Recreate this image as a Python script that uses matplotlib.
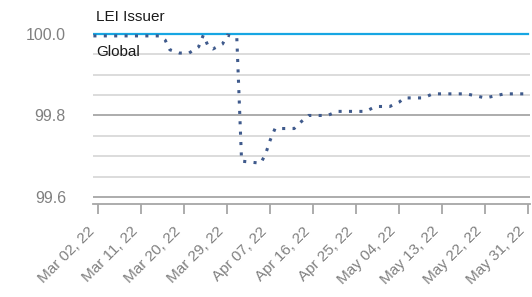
import pandas as pd
import matplotlib
matplotlib.use('Agg')
import matplotlib.pyplot as plt
import matplotlib.dates as mdates
import matplotlib.transforms as mtransforms

plt.rcParams['font.family'] = ['Liberation Sans', 'DejaVu Sans']

# values
lei_dates = ['2022-03-01', '2022-05-31']
lei_values = [100.0, 100.0]

global_dates = ['2022-03-01', '2022-03-15', '2022-03-16', '2022-03-17', '2022-03-19',
                '2022-03-21', '2022-03-23', '2022-03-24', '2022-03-25', '2022-03-26',
                '2022-03-28', '2022-03-29', '2022-03-31', '2022-04-01', '2022-04-05',
                '2022-04-06', '2022-04-07', '2022-04-08', '2022-04-12', '2022-04-13',
                '2022-04-15', '2022-04-19', '2022-04-21', '2022-04-27', '2022-04-29',
                '2022-05-02', '2022-05-04', '2022-05-05', '2022-05-09', '2022-05-11',
                '2022-05-18', '2022-05-20', '2022-05-22', '2022-05-24', '2022-05-26',
                '2022-05-31']
global_values = [99.995, 99.995, 99.985, 99.961, 99.953,
                 99.953, 99.968, 99.997, 99.970, 99.963,
                 99.975, 99.997, 99.990, 99.688, 99.683,
                 99.705, 99.740, 99.768, 99.768, 99.780,
                 99.800, 99.800, 99.810, 99.810, 99.822,
                 99.822, 99.833, 99.843, 99.843, 99.853,
                 99.853, 99.848, 99.843, 99.848, 99.853,
                 99.853]

tick_dates = pd.date_range('2022-03-02', '2022-05-31', freq='9D')

lei_x = pd.to_datetime(lei_dates)
glob_x = pd.to_datetime(global_dates)

fig = plt.figure(figsize=(5.32, 2.97), dpi=100)
ax = fig.add_axes([93 / 532, 1 - 204 / 297, 437 / 532, 204 / 297])

# gridlines: darker at 0.2 steps, light in between
for v in [99.65, 99.7, 99.75, 99.85, 99.9, 99.95]:
    ax.axhline(v, color='#d9d9d9', lw=1.3, zorder=1)
for v in [99.6, 99.8]:
    ax.axhline(v, color='#a6a6a6', lw=1.3, zorder=1)

ax.plot(glob_x, global_values, color='#3f5a8c', lw=2.2,
        linestyle=(0, (1, 2.4)), dash_capstyle='butt', zorder=3)
ax.plot(lei_x, lei_values, color='#17a6e3', lw=1.6, zorder=2)

ax.text(pd.Timestamp('2022-03-01 14:00'), 100.042, 'LEI Issuer', fontsize=11,
        color='#1a1a1a', va='center', ha='left')
ax.text(pd.Timestamp('2022-03-01 14:00'), 99.956, 'Global', fontsize=11,
        color='#1a1a1a', va='center', ha='left')

ax.set_xlim(pd.Timestamp('2022-03-01') - pd.Timedelta(hours=2), pd.Timestamp('2022-05-31 08:00'))
ax.set_ylim(99.583, 100.083)

ax.set_yticks([99.6, 99.8, 100.0])
ax.yaxis.set_major_formatter(plt.FuncFormatter(lambda v, p: f'{v:.1f}'))
ax.set_xticks(tick_dates)
ax.xaxis.set_major_formatter(mdates.DateFormatter('%b %d, %y'))

for s in ['top', 'right', 'left']:
    ax.spines[s].set_visible(False)
ax.spines['bottom'].set_color('#a6a6a6')
ax.spines['bottom'].set_linewidth(1.3)

ax.tick_params(axis='y', length=0, pad=19.5, labelsize=11.5, labelcolor='#808080')
ax.tick_params(axis='x', length=7, width=1.3, color='#a6a6a6', pad=11,
               labelsize=11, labelcolor='#808080')
shift = mtransforms.ScaledTranslation(-6 / 100, 0, fig.dpi_scale_trans)
for lbl in ax.get_xticklabels():
    lbl.set_rotation(45)
    lbl.set_ha('right')
    lbl.set_va('center')
    lbl.set_rotation_mode('anchor')
    lbl.set_transform(lbl.get_transform() + shift)

fig.savefig('out.png', dpi=100)
